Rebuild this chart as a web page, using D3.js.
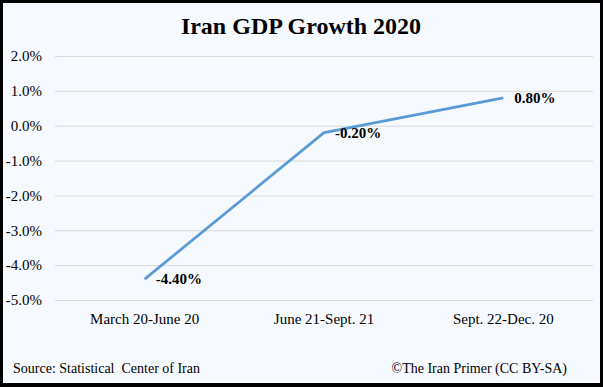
<!DOCTYPE html>
<html><head><meta charset="utf-8">
<script src="https://cdn.jsdelivr.net/npm/d3@7/dist/d3.min.js"></script>
<style>
html,body{margin:0;padding:0;background:#fff;}
svg{display:block;}
</style></head>
<body>
<svg id="c" width="603" height="387"></svg>
<script>
const title = "Iran GDP Growth 2020";
const categories = ["March 20-June 20", "June 21-Sept. 21", "Sept. 22-Dec. 20"];
const values = [-4.4, -0.2, 0.8];
const dataLabels = ["-4.40%", "-0.20%", "0.80%"];
const yTicks = [2, 1, 0, -1, -2, -3, -4, -5];
const sourceText = "Source: Statistical  Center of Iran";
const creditText = "\u00A9The Iran Primer (CC BY-SA)";

const svg = d3.select("#c");
const W = 603, H = 387;
const serif = "'Liberation Serif','Times New Roman',serif";

svg.append("rect").attr("x",0).attr("y",0).attr("width",W).attr("height",H).attr("fill","#000");
svg.append("rect").attr("x",3).attr("y",3).attr("width",W-6).attr("height",H-7).attr("fill","#f6fafe");

const x = d3.scaleBand().domain(categories).range([55,593]);
const y = d3.scaleLinear().domain([-5,2]).range([300,56]);

svg.append("text").attr("x",301).attr("y",34).attr("text-anchor","middle")
  .attr("font-family",serif).attr("font-weight","bold").attr("font-size",24)
  .attr("fill","#000").text(title);

const gy = svg.append("g").attr("transform","translate(55,0)")
  .call(d3.axisLeft(y).tickValues(yTicks).tickSize(-538).tickPadding(13)
    .tickFormat(d => d.toFixed(1) + "%"));
gy.select(".domain").remove();
gy.selectAll(".tick line").attr("stroke","#d9d9d9").attr("stroke-width",1);
gy.selectAll(".tick text").attr("font-family",serif).attr("font-size",15).attr("fill","#000");

const gx = svg.append("g").attr("transform","translate(0,300)")
  .call(d3.axisBottom(x).tickSize(0).tickPadding(13));
gx.select(".domain").remove();
gx.selectAll(".tick text").attr("font-family",serif).attr("font-size",15).attr("fill","#000");

const pts = categories.map((c,i)=>({c, v: values[i], l: dataLabels[i]}));
const line = d3.line().x(d => x(d.c) + x.bandwidth()/2).y(d => y(d.v));
svg.append("path").datum(pts).attr("d",line).attr("fill","none")
  .attr("stroke","#5b9bd5").attr("stroke-width",2.75).attr("stroke-linejoin","round");

svg.selectAll(".dl").data(pts).enter().append("text")
  .attr("x", d => x(d.c) + x.bandwidth()/2 + 11)
  .attr("y", d => y(d.v)).attr("dy","0.33em")
  .attr("font-family",serif).attr("font-weight","bold").attr("font-size",15)
  .attr("fill","#000").text(d => d.l);

svg.append("text").attr("x",13).attr("y",373).attr("font-family",serif)
  .attr("font-size",14).attr("fill","#000").style("white-space","pre").text(sourceText);
svg.append("text").attr("x",567).attr("y",373).attr("text-anchor","end").attr("font-family",serif)
  .attr("font-size",14).attr("fill","#000").text(creditText);
</script>
</body></html>
